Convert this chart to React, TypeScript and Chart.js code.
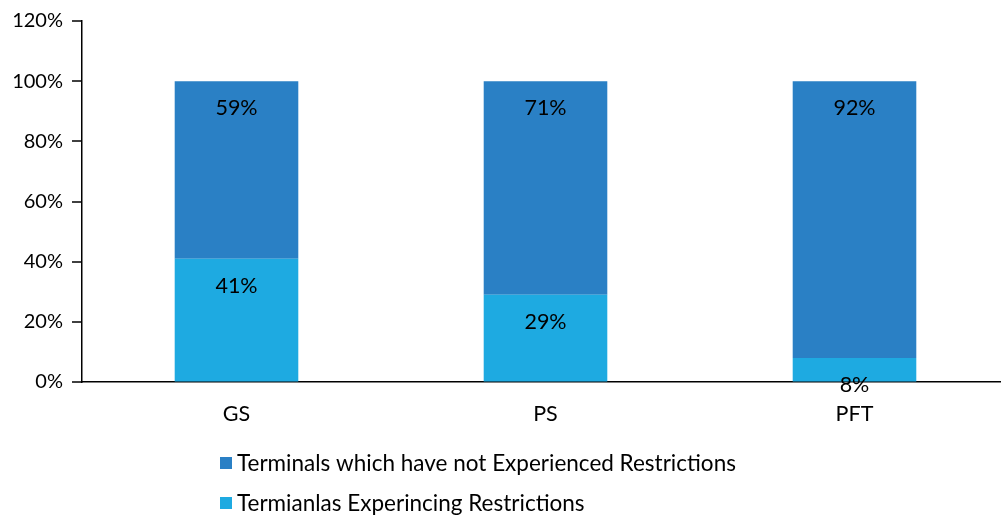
import React, { useEffect, useRef } from "react";
import { Chart, registerables } from "chart.js";

Chart.register(...registerables);

const categories = ["GS", "PS", "PFT"];
const experiencing = [41, 29, 8];
const notExperienced = [59, 71, 92];
const seriesNames = [
  "Terminals which have not Experienced Restrictions",
  "Termianlas Experincing Restrictions",
];
const yTicks = [0, 20, 40, 60, 80, 100, 120];

const DARK = "#2A80C5";
const LIGHT = "#1EAAE1";
const FONT = "Lato, 'DejaVu Sans', sans-serif";

const barLabels = {
  id: "barLabels",
  afterDatasetsDraw(chart: any) {
    const ctx = chart.ctx;
    ctx.save();
    ctx.font = `21.5px ${FONT}`;
    ctx.fillStyle = "#000";
    ctx.textAlign = "center";
    ctx.textBaseline = "middle";
    chart.data.datasets.forEach((ds: any, i: number) => {
      const meta = chart.getDatasetMeta(i);
      meta.data.forEach((el: any, j: number) => {
        ctx.fillText(`${ds.data[j]}%`, el.x, el.y + 27);
      });
    });
    ctx.restore();
  },
};

const yTickMarks = {
  id: "yTickMarks",
  afterDraw(chart: any) {
    const ctx = chart.ctx;
    const y = chart.scales.y;
    const left = chart.chartArea.left;
    ctx.save();
    ctx.strokeStyle = "#000";
    ctx.lineWidth = 1.5;
    yTicks.forEach((v) => {
      const py = Math.round(y.getPixelForValue(v));
      ctx.beginPath();
      ctx.moveTo(left - 10, py);
      ctx.lineTo(left, py);
      ctx.stroke();
    });
    ctx.restore();
  },
};

const customLegend = {
  id: "customLegend",
  afterDraw(chart: any) {
    const ctx = chart.ctx;
    ctx.save();
    ctx.font = `22.5px ${FONT}`;
    ctx.textBaseline = "middle";
    ctx.textAlign = "left";
    const items = [
      { label: seriesNames[0], color: DARK, y: 463 },
      { label: seriesNames[1], color: LIGHT, y: 503 },
    ];
    items.forEach((it) => {
      ctx.fillStyle = it.color;
      ctx.fillRect(220, it.y - 6, 12, 12);
      ctx.fillStyle = "#000";
      ctx.fillText(it.label, 237, it.y + 1);
    });
    ctx.restore();
  },
};

export default function App() {
  const ref = useRef<HTMLCanvasElement>(null);
  useEffect(() => {
    const chart = new Chart(ref.current!, {
      type: "bar",
      data: {
        labels: categories,
        datasets: [
          {
            label: seriesNames[1],
            data: experiencing,
            backgroundColor: LIGHT,
            barPercentage: 0.4,
            categoryPercentage: 1,
          },
          {
            label: seriesNames[0],
            data: notExperienced,
            backgroundColor: DARK,
            barPercentage: 0.4,
            categoryPercentage: 1,
          },
        ],
      },
      options: {
        animation: false,
        responsive: false,
        maintainAspectRatio: false,
        layout: { padding: { top: 20, left: 0, right: 0, bottom: 0 } },
        plugins: { legend: { display: false }, tooltip: { enabled: false } },
        scales: {
          x: {
            stacked: true,
            grid: { display: false, drawTicks: false },
            border: { display: true, color: "#000", width: 1.5 },
            ticks: { color: "#000", font: { family: FONT, size: 21.5 }, padding: 19 },
            afterFit: (s: any) => {
              s.height = 136;
            },
          },
          y: {
            stacked: true,
            min: 0,
            max: 120,
            afterBuildTicks: (s: any) => {
              s.ticks = yTicks.map((v) => ({ value: v }));
            },
            grid: {
              display: true,
              drawOnChartArea: false,
              drawTicks: true,
              tickLength: 10,
              tickColor: "rgba(0,0,0,0)",
              color: "rgba(0,0,0,0)",
            },
            border: { display: true, color: "#000", width: 1.5 },
            ticks: {
              color: "#000",
              font: { family: FONT, size: 20 },
              padding: 9,
              callback: (v: any) => `${v}%`,
            },
            afterFit: (s: any) => {
              s.width = 82;
            },
          },
        },
      },
      plugins: [barLabels, yTickMarks, customLegend],
    });
    return () => chart.destroy();
  }, []);
  return (
    <div
      style={{
        position: "fixed",
        left: 0,
        top: 0,
        width: 1001,
        height: 518,
        overflow: "hidden",
        background: "#fff",
      }}
    >
      <canvas ref={ref} width={1009} height={518} style={{ width: 1009, height: 518 }} />
    </div>
  );
}
